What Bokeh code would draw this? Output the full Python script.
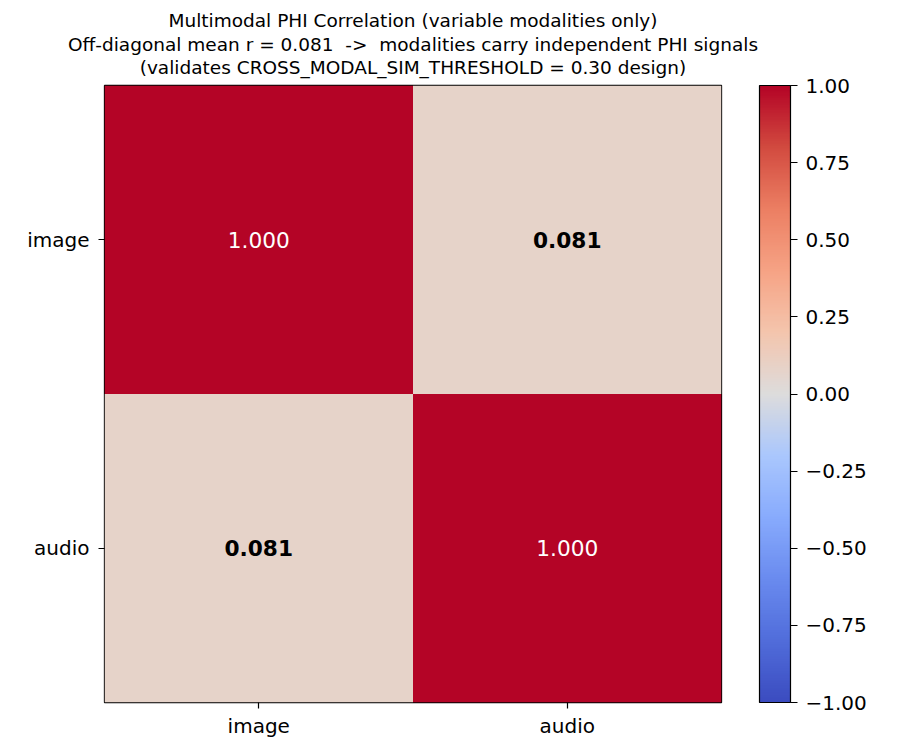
from bokeh.plotting import figure
from bokeh.models import (ColumnDataSource, LinearColorMapper, ColorBar,
                          FixedTicker, CustomJSTickFormatter, Title)
from bokeh.core.properties import value
from bokeh.transform import transform
from bokeh.embed import file_html
from bokeh.resources import INLINE

modalities = ["image", "audio"]
corr = [[1.000, 0.081],
        [0.081, 1.000]]
title_lines = [
    "Multimodal PHI Correlation (variable modalities only)",
    "Off-diagonal mean r = 0.081 \u00a0-> \u00a0modalities carry independent PHI signals",
    "(validates CROSS_MODAL_SIM_THRESHOLD = 0.30 design)",
]
cbar_ticks = [-1.0, -0.75, -0.5, -0.25, 0.0, 0.25, 0.5, 0.75, 1.0]

# coolwarm anchor colours, spread to a 256-step palette
anchors = ["#3b4cc0", "#516ddb", "#6a8bef", "#88abfd", "#aac7fd", "#dddcdc",
           "#f4c5ad", "#f6a385", "#ec7f63", "#d24b40", "#b40426"]


def hex_rgb(h):
    return [int(h[i:i + 2], 16) for i in (1, 3, 5)]


def build_palette(stops, n=256):
    out = []
    segs = len(stops) - 1
    for k in range(n):
        t = k / (n - 1) * segs
        i = min(int(t), segs - 1)
        f = t - i
        a, b = hex_rgb(stops[i]), hex_rgb(stops[i + 1])
        out.append("#%02x%02x%02x" % tuple(round(a[j] + (b[j] - a[j]) * f) for j in range(3)))
    return out


palette = build_palette(anchors)

xs, ys, vals, labels, colors, styles = [], [], [], [], [], []
for i, row_name in enumerate(modalities):
    for j, col_name in enumerate(modalities):
        v = corr[i][j]
        xs.append(col_name)
        ys.append(row_name)
        vals.append(v)
        labels.append("%.3f" % v)
        colors.append("white" if abs(v) > 0.5 else "black")
        styles.append("normal" if abs(v) > 0.5 else "bold")
source = ColumnDataSource(data=dict(x=xs, y=ys, value=vals, label=labels,
                                    tcolor=colors, tstyle=styles))

mapper = LinearColorMapper(palette=palette, low=-1, high=1)

FONT = "DejaVu Sans"
p = figure(x_range=modalities, y_range=list(reversed(modalities)),
           frame_width=617, frame_height=617,
           min_border_left=104, min_border_top=85, min_border_bottom=40,
           min_border_right=10,
           output_backend="svg", toolbar_location=None, tools="")


def style_title(t, standoff):
    t.align = "center"
    t.text_font = FONT
    t.text_font_size = "18.5px"
    t.text_font_style = "normal"
    t.text_color = "black"
    t.standoff = standoff
    t.offset = 0


# p.title is outermost; each added title sits nearer the frame than the next
p.title.text = title_lines[0]
style_title(p.title, 15)
for line, so in ((title_lines[2], 15), (title_lines[1], -14)):
    t = Title(text=line)
    style_title(t, so)
    p.add_layout(t, "above")

p.rect(x="x", y="y", width=1, height=1, source=source,
       fill_color=transform("value", mapper), line_color=None)
p.text(x="x", y="y", text="label", source=source, text_color="tcolor",
       text_font_style="tstyle", text_font_size="21.7px",
       text_align="center", text_baseline="middle", text_font=value(FONT))

p.grid.visible = False
p.outline_line_color = "black"
p.outline_line_width = 1.3
p.outline_line_alpha = 1.0
for ax in (p.xaxis, p.yaxis):
    ax.axis_line_color = None
    ax.major_tick_out = 6
    ax.major_tick_in = 0
    ax.major_tick_line_color = "black"
    ax.major_tick_line_width = 1.2
    ax.major_label_text_font = FONT
    ax.major_label_text_font_size = "20px"
    ax.major_label_text_color = "black"
p.yaxis.major_label_standoff = 9
p.xaxis.major_label_standoff = 5

cbar = ColorBar(color_mapper=mapper, width=31, height=617,
                ticker=FixedTicker(ticks=cbar_ticks),
                formatter=CustomJSTickFormatter(
                    code="return tick.toFixed(2).replace('-', '\u2212')"),
                padding=0, margin=0, location=(38, 0),
                bar_line_color="black", bar_line_width=1.2,
                major_tick_out=7, major_tick_in=0,
                major_tick_line_color="black", major_tick_line_width=1.2,
                major_label_text_font=FONT, major_label_text_font_size="20px",
                major_label_text_color="black", label_standoff=8,
                background_fill_alpha=0, border_line_color=None)
p.add_layout(cbar, "right")

open("out.html", "w").write(file_html(p, INLINE))
